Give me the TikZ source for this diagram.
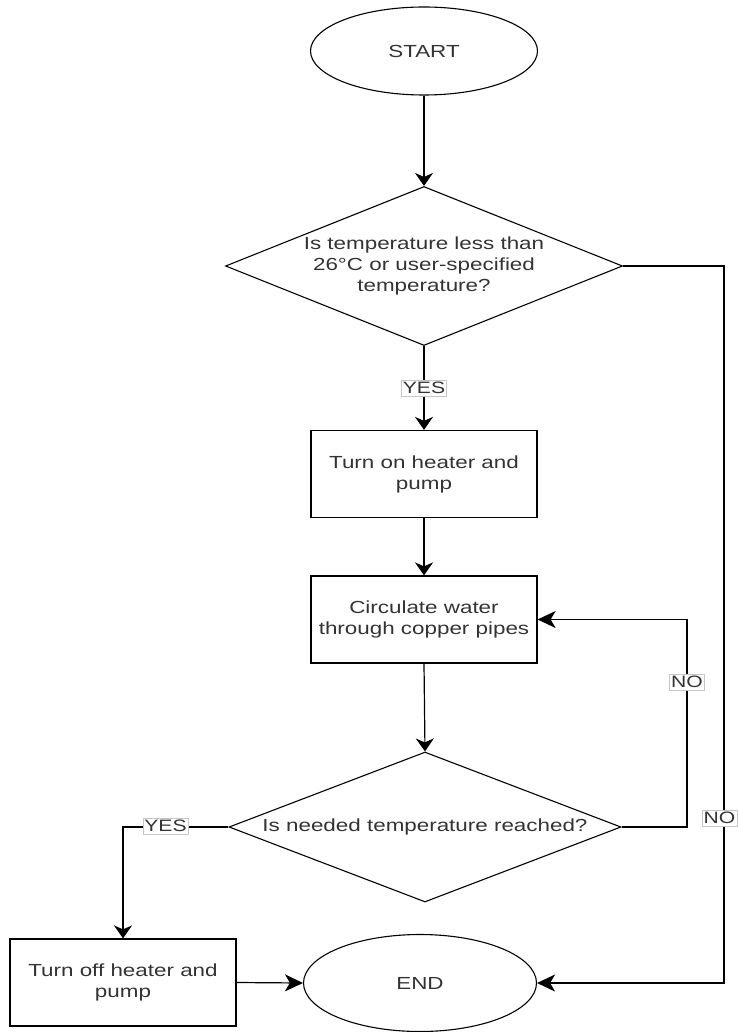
\documentclass[tikz,border=0pt]{standalone}
\usepackage{fontspec}
\setmainfont[FakeStretch=1.28]{Liberation Sans}
\usetikzlibrary{shapes.geometric,arrows.meta}
\begin{document}
\begin{tikzpicture}[x=1pt,y=-1pt,
  every node/.style={font=\fontsize{17.5}{21}\selectfont, text=black!80},
  term/.style={draw=black, line width=1.1pt, ellipse, inner sep=0pt},
  proc/.style={draw=black, line width=1.2pt, rectangle, minimum width=226pt, minimum height=87pt, align=center, inner sep=0pt},
  dec/.style={draw=black, line width=1.1pt, diamond, inner sep=0pt},
  txt/.style={align=center, inner sep=0pt},
  lbl/.style={draw=black!22, fill=white, line width=0.6pt, font=\fontsize{16.5}{18}\selectfont, inner xsep=1.5pt, inner ysep=2pt},
  flow/.style={draw=black, line width=1.2pt},
  varr/.style={-{Stealth[length=13pt,width=18pt,inset=4pt]}},
  harr/.style={-{Stealth[length=18pt,width=17pt,inset=5pt]}}]
\useasboundingbox (0,0) rectangle (737,1032);
% nodes
\node[term, minimum width=227pt, minimum height=88pt] (start) at (424,51) {START};
\node[dec, minimum width=397pt, minimum height=159pt] (d1) at (424,266) {};
\node[txt] (d1t) at (424,266) {Is temperature less than\\26°C or user-specified\\temperature?};
\node[proc] (b1) at (424,474) {Turn on heater and\\pump};
\node[proc] (b2) at (424,619.5) {Circulate water\\through copper pipes};
\node[dec, minimum width=392pt, minimum height=150pt] (d2) at (425,827) {};
\node[txt] (d2t) at (425,827) {Is needed temperature reached?};
\node[proc] (b3) at (123,982.5) {Turn off heater and\\pump};
\node[term, minimum width=233pt, minimum height=97pt] (end) at (420,983) {END};
\coordinate (loopX) at (687,0);
\coordinate (rightX) at (724,0);
% connectors
\draw[flow,varr] (start.south) -- (d1.north);
\draw[flow,varr] (d1.south) -- (b1.north);
\draw[flow,varr] (b1.south) -- (b2.north);
\draw[flow,varr] (b2.south) -- (d2.north);
\draw[flow,harr] (d2.east) -| (loopX |- b2.east) -- (b2.east);
\draw[flow,varr] (d2.west) -| (b3.north);
\draw[flow,harr] (d1.east) -| (rightX |- end.east) -- (end.east);
\draw[flow,harr] (b3.east) -- (end.west);
% edge labels
\node[lbl] (yes1) at (424,388) {YES};
\node[lbl] (no1) at (687,682) {NO};
\node[lbl] (yes2) at (165.5,826) {YES};
\node[lbl] (no2) at (719.5,818) {NO};
\end{tikzpicture}
\end{document}
